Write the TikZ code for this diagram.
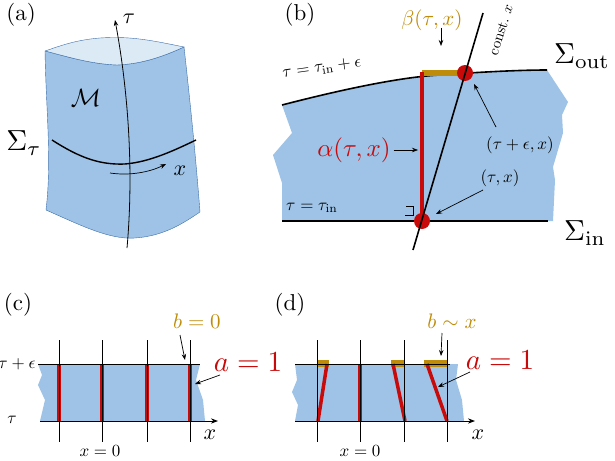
\documentclass[tikz,border=0pt]{standalone}
\usetikzlibrary{arrows.meta}
\begin{document}
\begin{tikzpicture}[x=1pt,y=-1pt,
  ax/.style={line width=0.9pt,-{Stealth[length=7pt]}},
  ptr/.style={line width=0.7pt,-{Stealth[length=6pt]}},
  thick line/.style={line width=1.6pt},
  panel/.style={scale=2.3,transform shape,inner sep=1pt},
  big/.style={scale=2.5,transform shape,inner sep=1pt},
  huge/.style={scale=2.9,transform shape,inner sep=1pt},
  mid/.style={scale=2.1,transform shape,inner sep=1pt},
  med/.style={scale=2.2,transform shape,inner sep=1pt},
  sml/.style={scale=1.7,transform shape,inner sep=1pt}]
\definecolor{blue1}{RGB}{158,195,230}
\definecolor{blue2}{RGB}{220,234,246}
\definecolor{edge}{RGB}{60,110,170}
\definecolor{rd}{RGB}{200,10,10}
\definecolor{gd}{RGB}{190,140,10}
\useasboundingbox (0,0) rectangle (615,460);
% ---------- (a)
\node[panel] (pa) at (21,15) {(a)};
\fill[blue1,draw=edge,line width=0.4pt] (45,51) .. controls (46,110) and (52,160) .. (46,210)
  .. controls (80,225) and (110,240) .. (135,238) .. controls (165,236) and (185,222) .. (200,212)
  .. controls (196,160) and (190,100) .. (184,47) .. controls (160,58) and (140,64) .. (117,65)
  .. controls (90,64) and (65,56) .. (45,51);
\fill[blue2,draw=edge,line width=0.4pt] (45,51) .. controls (65,56) and (90,64) .. (117,65)
  .. controls (140,64) and (160,58) .. (184,47) .. controls (150,40) and (130,36) .. (100,38)
  .. controls (75,40) and (60,46) .. (45,51);
\draw[line width=1.4pt] (52,140) .. controls (80,158) and (100,165) .. (125,164) .. controls (150,162) and (175,150) .. (196,140);
\coordinate (tb) at (127,248);
\coordinate (tt) at (115,20);
\draw[line width=0.8pt,-{Stealth[length=6pt]}] (tb) .. controls (134,170) and (128,90) .. (tt);
\node[med] (tau) at (129,19) {$\tau$};
\node[big] (M) at (86,98) {$\mathcal{M}$};
\node[huge] (St) at (24,143) {$\Sigma_\tau$};
\draw[line width=0.7pt,-{Stealth[length=6pt]}] (110,173) .. controls (130,176) and (150,172) .. (166,164);
\node[med] (xa) at (180,171) {$x$};
% ---------- (b)
\node[panel] (pb) at (300,15) {(b)};
\fill[blue1] (282,105) .. controls (340,90) and (400,77) .. (440,75) .. controls (480,72) and (520,70) .. (547,70)
  -- (568,102) -- (562,115) -- (563,133) -- (553,167) -- (555,180) -- (553,221)
  -- (282,221) -- (282,183) -- (273,155) -- (292,133) -- cycle;
\draw[thick line] (282,105) .. controls (340,90) and (400,77) .. (440,75) .. controls (480,72) and (520,70) .. (547,70);
\draw[thick line] (282,221) -- (548,221);
\fill[gd] (422,70) rectangle (465,76);
\draw[rd,line width=3.5pt] (422,72) -- (422,221);
\fill[rd] (465,73) circle (8);
\fill[rd] (422,221) circle (8);
\coordinate (cb) at (413,250);
\coordinate (ct) at (483,13);
\draw[thick line] (cb) -- (ct);
\draw[line width=0.8pt] (405,215) -- (413,215) -- (413,206) -- (406,206);
\node[scale=1.5,transform shape,rotate=72,inner sep=1pt] (cx) at (501,30) {const.~$x$};
\node[big,text=rd] (al) at (354,150) {$\alpha(\tau,x)$};
\draw[ptr] (al.east) -- (418,150);
\node[mid,text=gd] (be) at (432,20) {$\beta(\tau,x)$};
\draw[ptr] (441,28) -- (441,46);
\node[sml] (p1) at (520,145) {$(\tau+\epsilon,x)$};
\draw[ptr] (496,127) -- (474,84);
\node[sml] (p2) at (500,178) {$(\tau,x)$};
\draw[ptr] (483,190) -- (436,214);
\node[sml,rotate=8] (l1) at (322,68) {$\tau=\tau_{\mathrm{in}}+\epsilon$};
\node[sml] (l2) at (312,208) {$\tau=\tau_{\mathrm{in}}$};
\node[huge] (so) at (582,56) {$\Sigma_{\mathrm{out}}$};
\node[huge] (si) at (585,233) {$\Sigma_{\mathrm{in}}$};
% ---------- (c)
\node[panel] (pc) at (18,305) {(c)};
\fill[blue1] (38,364) -- (200,364) -- (196,380) -- (203,400) -- (205,421) -- (40,421)
  -- (45,400) -- (38,385) -- (42,375) -- cycle;
\foreach \xx in {59,102,147,190}{
  \draw[rd,line width=4pt] (\xx,364) -- (\xx,421);
  \draw[line width=0.6pt] (\xx,340) -- (\xx,442);
}
\draw[line width=0.9pt] (38,364) -- (200,364);
\draw[ax] (40,421) -- (218,421);
\node[sml] (c1) at (17,364) {$\tau+\epsilon$};
\node[sml] (c2) at (12,420) {$\tau$};
\node[med] (cxl) at (210,435) {$x$};
\node[sml] (c0) at (100,451) {$x=0$};
\node[mid,text=gd] (cb0) at (197,321) {$b=0$};
\draw[ptr] (180,335) -- (185,360);
\node[huge,text=rd] (ca) at (248,362) {$a=1$};
\draw[ptr] (220,375) -- (195,384);
% ---------- (d)
\node[panel] (pd) at (290,305) {(d)};
\fill[blue1] (295,364) -- (458,364) -- (456,380) -- (462,400) -- (464,421) -- (295,421)
  -- (298,405) -- (292,392) -- (297,380) -- cycle;
\fill[gd] (317,360) rectangle (329,367);
\fill[gd] (391,360) rectangle (404,367);
\fill[gd] (424,360) rectangle (447,367);
\draw[rd,line width=3.5pt] (318,421) -- (327,364);
\draw[rd,line width=3.5pt] (360,421) -- (360,364);
\draw[rd,line width=3.5pt] (405,421) -- (393,364);
\draw[rd,line width=3.5pt] (447,421) -- (427,364);
\foreach \xx in {317,360,404,447}{
  \draw[line width=0.6pt] (\xx,340) -- (\xx,442);
}
\draw[line width=0.9pt] (295,364) -- (450,364);
\draw[ax] (295,421) -- (475,421);
\node[med] (dxl) at (478,435) {$x$};
\node[sml] (d0) at (360,451) {$x=0$};
\node[mid,text=gd] (db) at (452,321) {$b\sim x$};
\draw[ptr] (442,333) -- (441,356);
\node[huge,text=rd] (da) at (500,360) {$a=1$};
\draw[ptr] (470,372) -- (438,387);
\end{tikzpicture}
\end{document}
